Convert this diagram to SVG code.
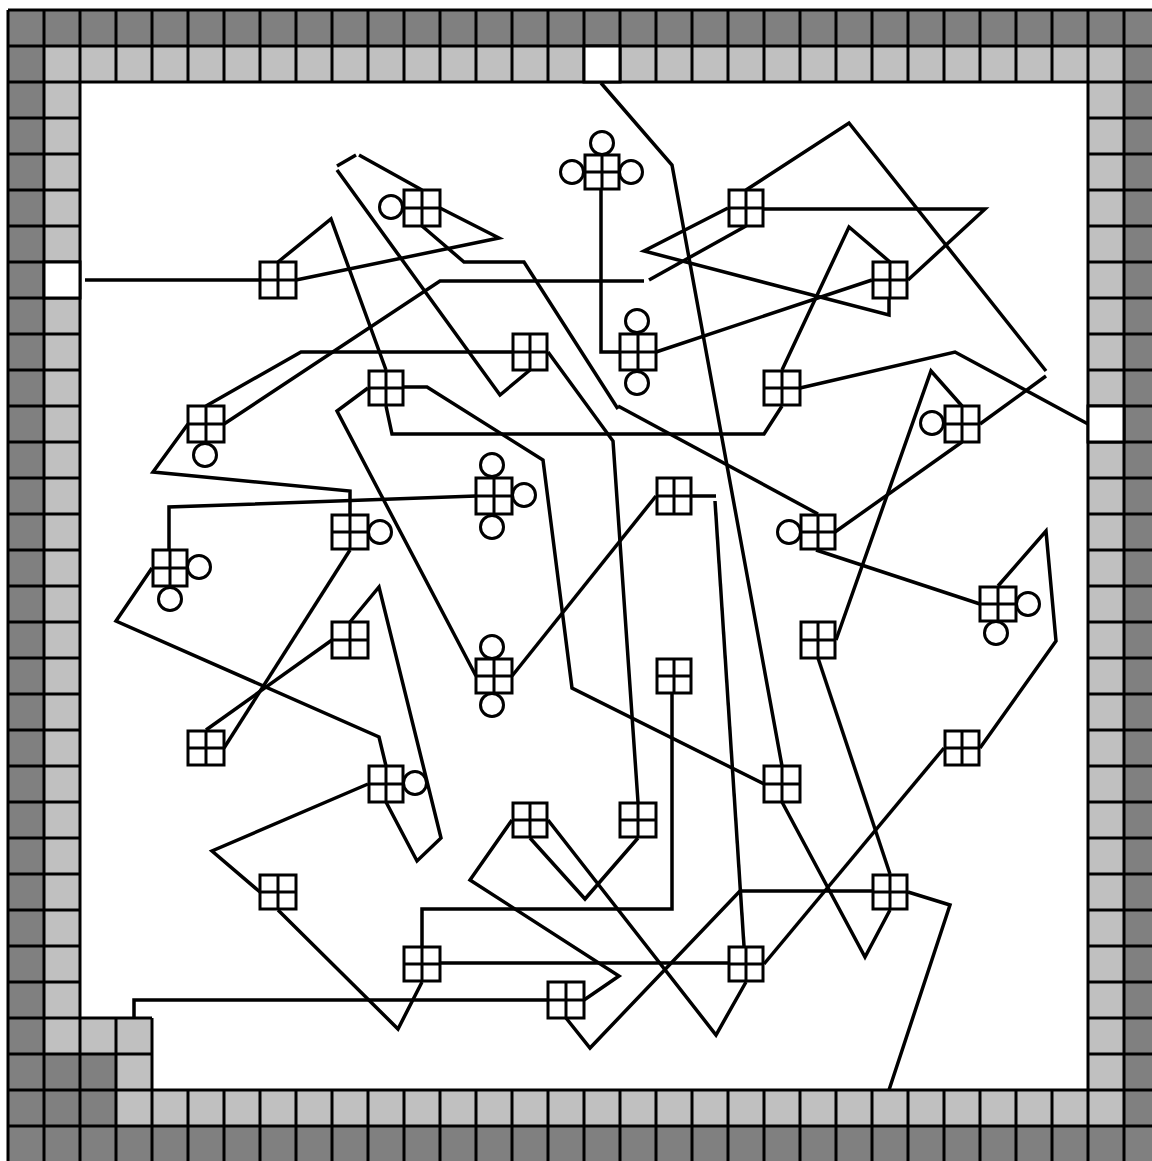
<svg xmlns="http://www.w3.org/2000/svg" width="1152" height="1161" viewBox="0 0 1152 1161">
<style>
.grid{fill:none;stroke:#000;stroke-width:3}
.free{fill:#fff;stroke:#000;stroke-width:3}
.c{fill:none;stroke:#000;stroke-width:3.5}
.n rect{fill:#fff;stroke:#000;stroke-width:3}
.n path{fill:none;stroke:#000;stroke-width:3}
.n circle{fill:none;stroke:#000;stroke-width:3}
</style>
<rect width="1152" height="1161" fill="#fff"/>
<g id="wall">
<path fill="#808080" d="M8 10H1152V1161H8Z"/>
<path fill="#c0c0c0" d="M44 46H1124V1126H116V1054H44Z"/>
<path fill="#fff" d="M80 82H1088V1090H152V1018H80Z"/>
<path class="grid" d="M8 10V1161M44 10V1161M80 10V1161M116 10V82M116 1018V1161M152 10V82M152 1018V1161M1088 10V1161M1124 10V1161M8 10H1152M8 46H1152M8 82H1152M8 1090H1152M8 1126H1152M8 1018H152M8 1054H152M188 10V82M188 1090V1161M224 10V82M224 1090V1161M260 10V82M260 1090V1161M296 10V82M296 1090V1161M332 10V82M332 1090V1161M368 10V82M368 1090V1161M404 10V82M404 1090V1161M440 10V82M440 1090V1161M476 10V82M476 1090V1161M512 10V82M512 1090V1161M548 10V82M548 1090V1161M584 10V82M584 1090V1161M620 10V82M620 1090V1161M656 10V82M656 1090V1161M692 10V82M692 1090V1161M728 10V82M728 1090V1161M764 10V82M764 1090V1161M800 10V82M800 1090V1161M836 10V82M836 1090V1161M872 10V82M872 1090V1161M908 10V82M908 1090V1161M944 10V82M944 1090V1161M980 10V82M980 1090V1161M1016 10V82M1016 1090V1161M1052 10V82M1052 1090V1161M8 118H80M1088 118H1152M8 154H80M1088 154H1152M8 190H80M1088 190H1152M8 226H80M1088 226H1152M8 262H80M1088 262H1152M8 298H80M1088 298H1152M8 334H80M1088 334H1152M8 370H80M1088 370H1152M8 406H80M1088 406H1152M8 442H80M1088 442H1152M8 478H80M1088 478H1152M8 514H80M1088 514H1152M8 550H80M1088 550H1152M8 586H80M1088 586H1152M8 622H80M1088 622H1152M8 658H80M1088 658H1152M8 694H80M1088 694H1152M8 730H80M1088 730H1152M8 766H80M1088 766H1152M8 802H80M1088 802H1152M8 838H80M1088 838H1152M8 874H80M1088 874H1152M8 910H80M1088 910H1152M8 946H80M1088 946H1152M8 982H80M1088 982H1152M1088 1018H1152M1088 1054H1152"/>
<rect class="free" x="584" y="46" width="36" height="36"/>
<rect class="free" x="44" y="262" width="36" height="36"/>
<rect class="free" x="1088" y="406" width="36" height="36"/>
</g>
<g id="connectors">
<polyline class="c" points="601,83 672,165 782,766"/>
<polyline class="c" points="746,190 849,123 1046,371"/>
<polyline class="c" points="1046,376 980,424"/>
<polyline class="c" points="962,442 835,532"/>
<polyline class="c" points="962,406 931,371 836,640"/>
<polyline class="c" points="818,658 890,874"/>
<polyline class="c" points="890,910 865,957 782,802"/>
<polyline class="c" points="908,892 950,905 889,1090"/>
<polyline class="c" points="872,891 740,891 590,1048 566,1018"/>
<polyline class="c" points="944,748 764,964"/>
<polyline class="c" points="746,982 716,1035 548,820"/>
<polyline class="c" points="980,748 1056,641 1046,531 998,586"/>
<polyline class="c" points="980,604 816,550"/>
<polyline class="c" points="818,514 618,406"/>
<polyline class="c" points="618,409 524,262 464,262 422,226"/>
<polyline class="c" points="440,208 499,238 296,280"/>
<polyline class="c" points="422,190 359,155"/>
<polyline class="c" points="356,155 337,166"/>
<polyline class="c" points="337,170 500,395 530,370"/>
<polyline class="c" points="278,262 331,219 386,370"/>
<polyline class="c" points="85,280 260,280"/>
<polyline class="c" points="224,424 440,281 644,281"/>
<polyline class="c" points="649,280 746,226"/>
<polyline class="c" points="728,208 644,251 889,315 889,298"/>
<polyline class="c" points="764,209 985,209 908,280"/>
<polyline class="c" points="872,280 656,352"/>
<polyline class="c" points="601,190 601,352 620,352"/>
<polyline class="c" points="890,262 849,227 782,370"/>
<polyline class="c" points="800,388 955,352 1088,424"/>
<polyline class="c" points="782,406 764,434 392,434 386,406"/>
<polyline class="c" points="206,406 301,352 512,352"/>
<polyline class="c" points="548,352 613,441 638,802"/>
<polyline class="c" points="188,424 153,472 350,491 350,514"/>
<polyline class="c" points="169,550 169,507 476,496"/>
<polyline class="c" points="350,550 224,748"/>
<polyline class="c" points="152,568 116,621 379,737 386,766"/>
<polyline class="c" points="350,622 379,587 441,838 417,861 386,802"/>
<polyline class="c" points="332,640 206,730"/>
<polyline class="c" points="368,388 337,411 476,676"/>
<polyline class="c" points="404,387 427,387 543,460 572,688 764,784"/>
<polyline class="c" points="512,676 656,496"/>
<polyline class="c" points="692,496 716,496"/>
<polyline class="c" points="715,501 744,946"/>
<polyline class="c" points="672,692 672,909 422,909 422,946"/>
<polyline class="c" points="440,963 728,963"/>
<polyline class="c" points="422,982 398,1029 278,910"/>
<polyline class="c" points="260,892 212,851 368,784"/>
<polyline class="c" points="584,1000 619,976 470,880 512,820"/>
<polyline class="c" points="530,838 585,899 638,838"/>
<polyline class="c" points="548,1000 134,1000 134,1018"/>
</g>
<g id="n1" class="n"><rect x="404" y="190" width="36" height="36"/><path d="M422 190V226M404 208H440"/><circle cx="391" cy="207" r="11.5"/></g>
<g id="n2" class="n"><rect x="585" y="155" width="34" height="34"/><path d="M602 155V189M585 172H619"/><circle cx="602" cy="143" r="11.5"/><circle cx="572" cy="172" r="11.5"/><circle cx="631" cy="172" r="11.5"/></g>
<g id="n3" class="n"><rect x="729" y="190" width="34" height="36"/><path d="M746 190V226M729 208H763"/></g>
<g id="n4" class="n"><rect x="260" y="262" width="36" height="36"/><path d="M278 262V298M260 280H296"/></g>
<g id="n5" class="n"><rect x="873" y="262" width="34" height="36"/><path d="M890 262V298M873 280H907"/></g>
<g id="n6" class="n"><rect x="513" y="334" width="34" height="36"/><path d="M530 334V370M513 352H547"/></g>
<g id="n7" class="n"><rect x="620" y="334" width="36" height="36"/><path d="M638 334V370M620 352H656"/><circle cx="637" cy="321" r="11.5"/><circle cx="637" cy="383" r="11.5"/></g>
<g id="n8" class="n"><rect x="369" y="371" width="34" height="34"/><path d="M386 371V405M369 388H403"/></g>
<g id="n9" class="n"><rect x="764" y="371" width="36" height="34"/><path d="M782 371V405M764 388H800"/></g>
<g id="n10" class="n"><rect x="188" y="406" width="36" height="36"/><path d="M206 406V442M188 424H224"/><circle cx="205" cy="455" r="11.5"/></g>
<g id="n11" class="n"><rect x="945" y="406" width="34" height="36"/><path d="M962 406V442M945 424H979"/><circle cx="932" cy="423" r="11.5"/></g>
<g id="n12" class="n"><rect x="476" y="478" width="36" height="36"/><path d="M494 478V514M476 496H512"/><circle cx="492" cy="465" r="11.5"/><circle cx="524" cy="495" r="11.5"/><circle cx="492" cy="527" r="11.5"/></g>
<g id="n13" class="n"><rect x="657" y="478" width="34" height="36"/><path d="M674 478V514M657 496H691"/></g>
<g id="n14" class="n"><rect x="332" y="515" width="36" height="34"/><path d="M350 515V549M332 532H368"/><circle cx="380" cy="532" r="11.5"/></g>
<g id="n15" class="n"><rect x="801" y="515" width="34" height="34"/><path d="M818 515V549M801 532H835"/><circle cx="789" cy="532" r="11.5"/></g>
<g id="n16" class="n"><rect x="153" y="550" width="34" height="36"/><path d="M170 550V586M153 568H187"/><circle cx="199" cy="567" r="11.5"/><circle cx="170" cy="599" r="11.5"/></g>
<g id="n17" class="n"><rect x="980" y="587" width="36" height="34"/><path d="M998 587V621M980 604H1016"/><circle cx="1028" cy="604" r="11.5"/><circle cx="996" cy="633" r="11.5"/></g>
<g id="n18" class="n"><rect x="332" y="622" width="36" height="36"/><path d="M350 622V658M332 640H368"/></g>
<g id="n19" class="n"><rect x="801" y="622" width="34" height="36"/><path d="M818 622V658M801 640H835"/></g>
<g id="n20" class="n"><rect x="476" y="659" width="36" height="34"/><path d="M494 659V693M476 676H512"/><circle cx="492" cy="647" r="11.5"/><circle cx="492" cy="705" r="11.5"/></g>
<g id="n21" class="n"><rect x="657" y="659" width="34" height="34"/><path d="M674 659V693M657 676H691"/></g>
<g id="n22" class="n"><rect x="188" y="731" width="36" height="34"/><path d="M206 731V765M188 748H224"/></g>
<g id="n23" class="n"><rect x="945" y="731" width="34" height="34"/><path d="M962 731V765M945 748H979"/></g>
<g id="n24" class="n"><rect x="369" y="766" width="34" height="36"/><path d="M386 766V802M369 784H403"/><circle cx="415" cy="783" r="11.5"/></g>
<g id="n25" class="n"><rect x="764" y="766" width="36" height="36"/><path d="M782 766V802M764 784H800"/></g>
<g id="n26" class="n"><rect x="513" y="803" width="34" height="34"/><path d="M530 803V837M513 820H547"/></g>
<g id="n27" class="n"><rect x="620" y="803" width="36" height="34"/><path d="M638 803V837M620 820H656"/></g>
<g id="n28" class="n"><rect x="260" y="875" width="36" height="34"/><path d="M278 875V909M260 892H296"/></g>
<g id="n29" class="n"><rect x="873" y="875" width="34" height="34"/><path d="M890 875V909M873 892H907"/></g>
<g id="n30" class="n"><rect x="404" y="947" width="36" height="34"/><path d="M422 947V981M404 964H440"/></g>
<g id="n31" class="n"><rect x="729" y="947" width="34" height="34"/><path d="M746 947V981M729 964H763"/></g>
<g id="n32" class="n"><rect x="548" y="982" width="36" height="36"/><path d="M566 982V1018M548 1000H584"/></g>
</svg>
